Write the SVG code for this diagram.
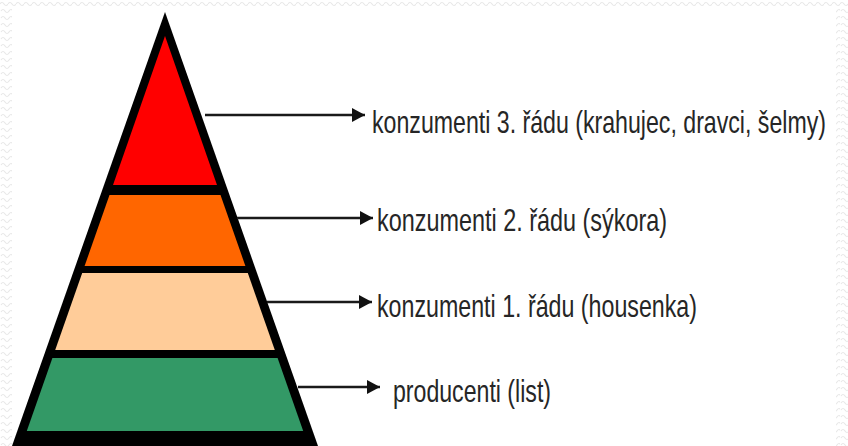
<svg xmlns="http://www.w3.org/2000/svg" width="848" height="446" viewBox="0 0 848 446">
  <style>
    .lbl { font-family: "Liberation Sans", Arial, sans-serif; font-size: 32px; fill: #262626; }
    .conn { stroke: #1a1a1a; stroke-width: 2.5; fill: none; marker-end: url(#arrow); }
    .wave { stroke: #e8e8e8; stroke-width: 1.2; fill: none; }
  </style>
  <defs>
    <marker id="arrow" markerUnits="userSpaceOnUse" markerWidth="14" markerHeight="14" refX="13" refY="7" orient="auto">
      <path d="M0,0 L13,7 L0,14 Z" fill="#111"/>
    </marker>
    <pattern id="wavesV" x="0" y="0" width="12" height="7" patternUnits="userSpaceOnUse">
      <path class="wave" d="M1,4 Q3,1 5,4 T9,4 T13,4"/>
    </pattern>
    <pattern id="wavesH" x="0" y="0" width="8" height="8" patternUnits="userSpaceOnUse">
      <path class="wave" d="M0,4 Q2,1 4,4 T8,4"/>
    </pattern>
  </defs>
  <rect width="848" height="446" fill="#ffffff"/>
  <g id="border">
    <rect x="0" y="0" width="848" height="8" fill="url(#wavesH)"/>
    <rect x="0" y="8" width="12" height="438" fill="url(#wavesV)"/>
    <rect x="836" y="8" width="12" height="438" fill="url(#wavesV)"/>
  </g>
  <g id="pyramid">
    <polygon points="165,12 12,446 318,446" fill="#000"/>
    <polygon id="level4" points="165,36 113,185 217,185" fill="#ff0000"/>
    <polygon id="level3" points="109.5,195 220.5,195 245.4,266 84.6,266" fill="#ff6600"/>
    <polygon id="level2" points="82.2,273 247.8,273 274.8,350 55.2,350" fill="#ffcc99"/>
    <polygon id="level1" points="52.4,358 277.6,358 303.2,431 26.8,431" fill="#339966"/>
  </g>
  <g id="connectors">
    <line class="conn" x1="205" y1="115" x2="365" y2="115"/>
    <line class="conn" x1="237" y1="218" x2="373" y2="218"/>
    <line class="conn" x1="267" y1="302" x2="372" y2="302"/>
    <line class="conn" x1="298" y1="387" x2="380" y2="387"/>
  </g>
  <g id="label4">
    <text class="lbl" x="372" y="133" textLength="454" lengthAdjust="spacingAndGlyphs">konzumenti 3. řádu (krahujec, dravci, šelmy)</text>
  </g>
  <g id="label3">
    <text class="lbl" x="377" y="231" textLength="290" lengthAdjust="spacingAndGlyphs">konzumenti 2. řádu (sýkora)</text>
  </g>
  <g id="label2">
    <text class="lbl" x="377" y="317" textLength="320" lengthAdjust="spacingAndGlyphs">konzumenti 1. řádu (housenka)</text>
  </g>
  <g id="label1">
    <text class="lbl" x="393" y="402" textLength="158" lengthAdjust="spacingAndGlyphs">producenti (list)</text>
  </g>
</svg>
